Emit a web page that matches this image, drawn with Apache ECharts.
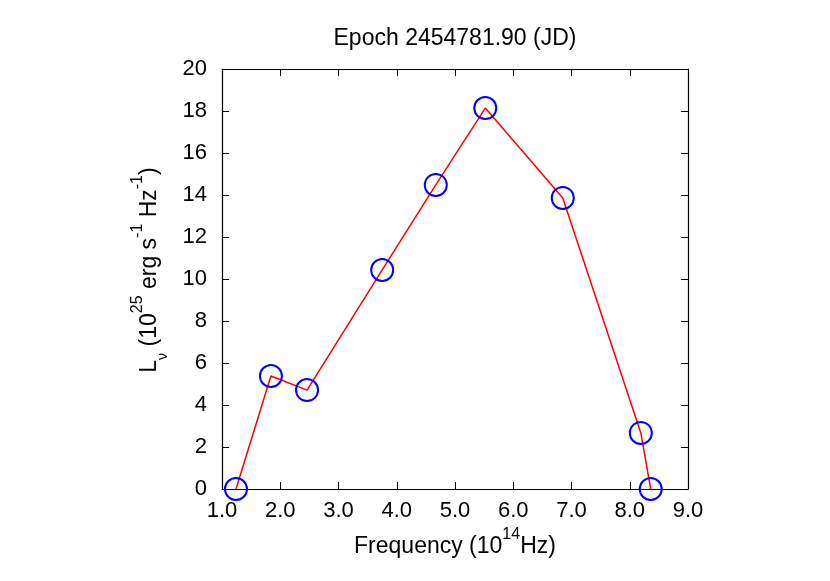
<!DOCTYPE html>
<html>
<head>
<meta charset="utf-8">
<script src="https://cdn.jsdelivr.net/npm/echarts@6/dist/echarts.min.js"></script>
<style>
  html, body { margin: 0; padding: 0; background: #fff; }
  #chart { width: 830px; height: 581px; }
</style>
</head>
<body>
<div id="chart"></div>
<script>
// frequency in 10^14 Hz, luminosity in 10^25 erg/s/Hz
var freq = [1.24, 1.84, 2.46, 3.75, 4.67, 5.52, 6.85, 8.19, 8.36];
var lum = [0.0, 5.38, 4.71, 10.43, 14.48, 18.14, 13.86, 2.67, 0.0];

var xMin = 1, xMax = 9, xStep = 1;
var yMin = 0, yMax = 20, yStep = 2;

var font = 'Liberation Sans';
var chart = echarts.init(document.getElementById('chart'));

var points = freq.map(function (f, i) { return [f, lum[i]]; });

var tickStyle = { show: true, inside: true, length: 7, lineStyle: { color: '#000', width: 1 } };
var lineStyle = { show: true, onZero: false, lineStyle: { color: '#000', width: 1.2 } };

// superscript / subscript styles for axis names (base line height 40)
var richStyles = {
    sup: { fontSize: 16, lineHeight: 16, verticalAlign: 'top', fontFamily: font, color: '#000' },
    sub: { fontSize: 14, lineHeight: 20, verticalAlign: 'bottom', fontFamily: font, color: '#000' }
};

var option = {
    animation: false,
    backgroundColor: '#fff',
    textStyle: { fontFamily: font },
    title: {
        text: 'Epoch 2454781.90 (JD)',
        left: 450,
        textAlign: 'center',
        top: 22,
        textStyle: { fontFamily: font, fontSize: 23, fontWeight: 'normal', color: '#000' }
    },
    grid: { left: 222, right: 142, top: 69, bottom: 92 },
    xAxis: [{
        type: 'value',
        min: xMin, max: xMax, interval: xStep,
        axisLine: lineStyle,
        axisTick: tickStyle,
        splitLine: { show: false },
        axisLabel: {
            margin: 11, color: '#000', fontSize: 22, fontFamily: font,
            formatter: function (v) { return v.toFixed(1); }
        },
        name: 'Frequency (10{sup|14}Hz)',
        nameLocation: 'middle',
        nameGap: 37,
        nameTextStyle: { color: '#000', fontSize: 23, fontFamily: font, lineHeight: 40, rich: richStyles }
    }, {
        type: 'value',
        position: 'top',
        min: xMin, max: xMax, interval: xStep,
        axisLine: lineStyle,
        axisTick: tickStyle,
        axisLabel: { show: false },
        splitLine: { show: false }
    }],
    yAxis: [{
        type: 'value',
        min: yMin, max: yMax, interval: yStep,
        axisLine: lineStyle,
        axisTick: tickStyle,
        splitLine: { show: false },
        axisLabel: { margin: 15, color: '#000', fontSize: 22, fontFamily: font },
        name: 'L{sub|ν} (10{sup|25} erg s{sup|-1} Hz{sup|-1})',
        nameLocation: 'middle',
        nameGap: 52,
        nameTextStyle: {
            color: '#000', fontSize: 23, fontFamily: font, lineHeight: 40,
            padding: [0, 0, 0, 18],
            rich: richStyles
        }
    }, {
        type: 'value',
        position: 'right',
        min: yMin, max: yMax, interval: yStep,
        axisLine: lineStyle,
        axisTick: tickStyle,
        axisLabel: { show: false },
        splitLine: { show: false }
    }],
    series: [{
        type: 'line',
        data: points,
        lineStyle: { color: '#ff0000', width: 1.5 },
        symbol: 'circle',
        symbolSize: 22,
        itemStyle: { color: 'rgba(0,0,0,0)', borderColor: '#0000ff', borderWidth: 2 },
        z: 3
    }]
};
chart.setOption(option);
</script>
</body>
</html>
